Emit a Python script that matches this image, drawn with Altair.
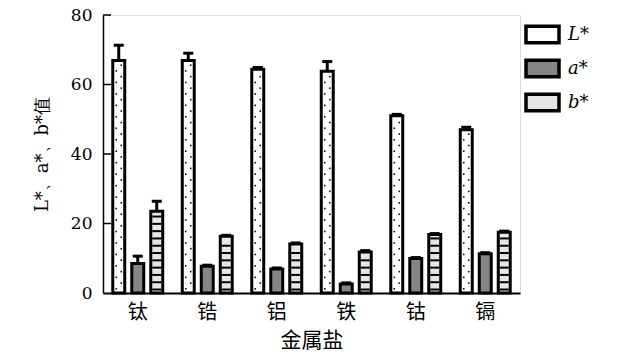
import altair as alt
import numpy as np
import pandas as pd

categories = ["钛", "锆", "铝", "铁", "钴", "镉"]
series = ["L*", "a*", "b*"]
L_vals = [66.9, 66.9, 64.4, 63.8, 51.0, 47.0]
L_err = [4.4, 2.1, 0.5, 2.8, 0.4, 0.7]
a_vals = [8.5, 7.7, 6.9, 2.6, 9.9, 11.3]
a_err = [2.1, 0.3, 0.3, 0.3, 0.3, 0.3]
b_vals = [23.5, 16.3, 14.1, 11.8, 16.8, 17.5]
b_err = [2.9, 0.3, 0.3, 0.4, 0.3, 0.3]
y_ticks = [0, 20, 40, 60, 80]

SERIF = "DejaVu Serif"
CJK = "Noto Sans CJK SC"

rows = []
for s, vals, errs in [("L*", L_vals, L_err), ("a*", a_vals, a_err), ("b*", b_vals, b_err)]:
    for c, v, e in zip(categories, vals, errs):
        rows.append({"cat": c, "series": s, "value": v, "top": v + e})
df = pd.DataFrame(rows)

# decorative fill patterns derived from the values
dots = []
for c, v in zip(categories, L_vals):
    for i, y in enumerate(np.arange(1.2, v - 0.8, 1.65)):
        dots.append({"cat": c, "series": "L*", "y": float(y), "side": i % 2})
dots = pd.DataFrame(dots)
stripes = []
for c, v in zip(categories, b_vals):
    for y in np.arange(1.0, v - 0.6, 2.1):
        stripes.append({"cat": c, "series": "b*", "y": float(y)})
stripes = pd.DataFrame(stripes)

xenc = alt.X("cat:N", sort=categories,
             scale=alt.Scale(paddingInner=0.18, paddingOuter=0.09),
             axis=alt.Axis(title="金属盐", labelAngle=0, ticks=False,
                           labelFont=CJK, labelFontSize=20,
                           labelColor="black", labelPadding=9,
                           titleFont=CJK, titleFontSize=21,
                           titleFontWeight="normal", titleColor="black",
                           titlePadding=7, domainColor="black", domainWidth=2))
xoff = alt.XOffset("series:N", sort=series,
                   scale=alt.Scale(domain=series, paddingInner=0.37, paddingOuter=0.185))
yscale = alt.Scale(domain=[0, 80], nice=False)
yaxis = alt.Axis(title="L*、a*、b*值", values=y_ticks, ticks=False, grid=False,
                 labelFont=SERIF, labelFontSize=17, labelColor="black",
                 labelPadding=11, titleFont=SERIF, titleFontSize=18,
                 titleFontWeight="normal", titleColor="black", titlePadding=19,
                 domainColor="black", domainWidth=1.5)

base = alt.Chart(df)
bars = base.mark_bar(stroke="black", strokeWidth=3).encode(
    x=xenc, xOffset=xoff,
    y=alt.Y("value:Q", scale=yscale, axis=yaxis),
    fill=alt.Fill("series:N", sort=series,
                  scale=alt.Scale(domain=series, range=["white", "#858585", "#e6e6e6"]),
                  legend=alt.Legend(title=None, orient="none", legendX=421, legendY=1,
                                    symbolType="M-1,-0.5L1,-0.5L1,0.5L-1,0.5Z",
                                    symbolSize=1089, symbolStrokeColor="black",
                                    symbolStrokeWidth=3.5, symbolOpacity=1,
                                    labelFont=SERIF, labelFontSize=18,
                                    labelFontStyle="italic", labelColor="black",
                                    labelOffset=7, rowPadding=-1)),
)

dot_enc = dict(x=alt.X("cat:N", sort=categories),
               xOffset=alt.XOffset("series:N", sort=series),
               y=alt.Y("y:Q", scale=yscale))
dot_left = alt.Chart(dots).transform_filter("datum.side == 0").mark_point(
    shape="M-0.66,-0.16L-0.34,-0.16L-0.34,0.16L-0.66,0.16Z", size=100,
    filled=True, color="#111", opacity=1, strokeWidth=0).encode(**dot_enc)
dot_right = alt.Chart(dots).transform_filter("datum.side == 1").mark_point(
    shape="M0.34,-0.16L0.66,-0.16L0.66,0.16L0.34,0.16Z", size=100,
    filled=True, color="#111", opacity=1, strokeWidth=0).encode(**dot_enc)
stripe_layer = alt.Chart(stripes).mark_tick(color="black", thickness=2, size=9,
                                            orient="horizontal", opacity=1).encode(
    x=alt.X("cat:N", sort=categories), xOffset=alt.XOffset("series:N", sort=series),
    y=alt.Y("y:Q", scale=yscale))

stems = base.mark_rule(color="black", strokeWidth=3).encode(
    x=alt.X("cat:N", sort=categories), xOffset=alt.XOffset("series:N", sort=series),
    y=alt.Y("value:Q", scale=yscale), y2="top:Q")
caps = base.mark_tick(color="black", thickness=3, size=10, orient="horizontal",
                      opacity=1).encode(
    x=alt.X("cat:N", sort=categories), xOffset=alt.XOffset("series:N", sort=series),
    y=alt.Y("top:Q", scale=yscale))

inner_ticks = alt.Chart(pd.DataFrame({"v": y_ticks[1:]})).mark_rule(
    color="black", strokeWidth=1.5).encode(
    y=alt.Y("v:Q", scale=yscale), x=alt.value(0), x2=alt.value(8))

chart = alt.layer(bars, dot_left, dot_right, stripe_layer, stems, caps, inner_ticks).properties(
    width=417, height=278,
    autosize=alt.AutoSizeParams(type="none"),
    padding={"left": 103, "top": 15, "right": 106, "bottom": 63},
).configure_view(stroke=None).configure(background="white")

chart.save("out.html", embed_options={"renderer": "svg", "actions": False})
